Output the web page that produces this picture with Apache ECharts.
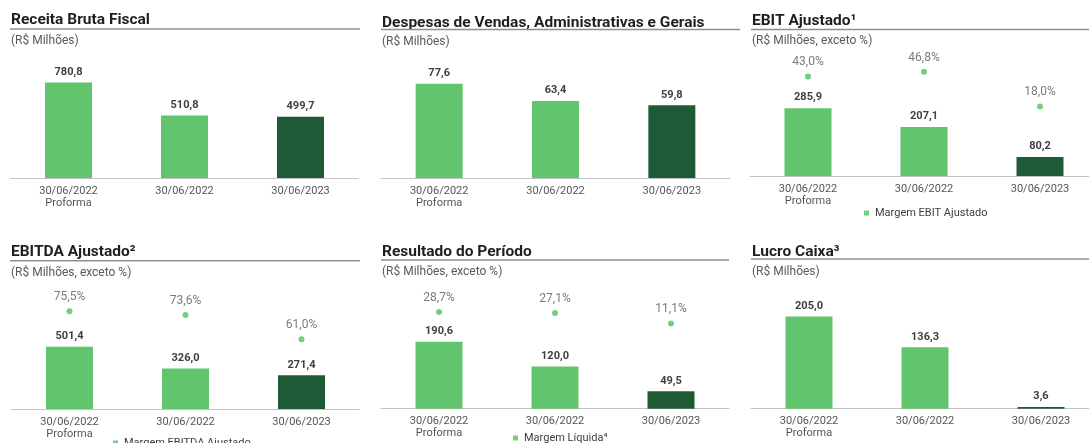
<!DOCTYPE html>
<html>
<head>
<meta charset="utf-8">
<script src="https://cdn.jsdelivr.net/npm/echarts@6/dist/echarts.min.js"></script>
<style>
  html, body { margin: 0; padding: 0; background: #ffffff; }
  #chart { width: 1089px; height: 443px; }
</style>
</head>
<body>
<div id="chart"></div>
<script>
// Period labels shared by every panel
const categories = ['30/06/2022\nProforma', '30/06/2022', '30/06/2023'];

// R$ millions
const receitaBruta = [780.8, 510.8, 499.7];
const despesasVGA = [77.6, 63.4, 59.8];
const ebitAjustado = [285.9, 207.1, 80.2];
const ebitdaAjustado = [501.4, 326.0, 271.4];
const resultadoPeriodo = [190.6, 120.0, 49.5];
const lucroCaixa = [205.0, 136.3, 3.6];

// Margins, %
const margemEbit = [43.0, 46.8, 18.0];
const margemEbitda = [75.5, 73.6, 61.0];
const margemLiquida = [28.7, 27.1, 11.1];

const FONT = 'Roboto, "Noto Sans", sans-serif';
const LIGHT = '#62c46c';
const DARK = '#1f5a37';
const DOT = '#4fc45c';

const fmt = v => v.toFixed(1).replace('.', ',');

// Panel layout: grid box, value-axis ranges, title block
const panels = [
  { title: 'Receita Bruta Fiscal', sub: '(R$ Milhões)', bars: receitaBruta,
    grid: { left: 10.5, top: 58, width: 348, height: 120 }, barMax: 980,
    titleY: 20, lineY: 29, lineX: [10, 360], subY: 41 },
  { title: 'Despesas de Vendas, Administrativas e Gerais', sub: '(R$ Milhões)', bars: despesasVGA,
    grid: { left: 381, top: 58, width: 349, height: 120 }, barMax: 98.8,
    titleY: 23.5, lineY: 29.5, lineX: [381, 740], subY: 42 },
  { title: 'EBIT Ajustado¹', sub: '(R$ Milhões, exceto %)', bars: ebitAjustado,
    margin: margemEbit, marginName: 'Margem EBIT Ajustado', pctRange: [-40, 60],
    legendPos: { left: 864, top: 207 },
    grid: { left: 750, top: 56, width: 348, height: 120 }, barMax: 506,
    titleY: 21, lineY: 29.5, lineX: [751, 1089], subY: 41 },
  { title: 'EBITDA Ajustado²', sub: '(R$ Milhões, exceto %)', bars: ebitdaAjustado,
    margin: margemEbitda, marginName: 'Margem EBITDA Ajustado', pctRange: [25, 87],
    legendPos: { left: 113, top: 437 },
    grid: { left: 11.5, top: 289, width: 348, height: 120 }, barMax: 968,
    titleY: 252.5, lineY: 260.7, lineX: [10, 360], subY: 273 },
  { title: 'Resultado do Período', sub: '(R$ Milhões, exceto %)', bars: resultadoPeriodo,
    margin: margemLiquida, marginName: 'Margem Líquida⁴', pctRange: [-120, 64.6],
    legendPos: { left: 513, top: 432 },
    grid: { left: 381, top: 288.7, width: 348, height: 120 }, barMax: 341,
    titleY: 252, lineY: 260, lineX: [381, 729], subY: 272 },
  { title: 'Lucro Caixa³', sub: '(R$ Milhões)', bars: lucroCaixa,
    grid: { left: 751, top: 288.7, width: 348, height: 120 }, barMax: 266.7,
    titleY: 252.5, lineY: 259, lineX: [751, 1089], subY: 272 }
];

const grid = [], xAxis = [], yAxis = [], series = [], legend = [], graphic = [];

panels.forEach((p, i) => {
  // right-hand panels run past the canvas edge, so no bounds fitting
  grid.push(Object.assign({ containLabel: false, outerBoundsMode: 'none' }, p.grid));
  xAxis.push({
    type: 'category', gridIndex: i, data: categories,
    axisLine: { show: true, lineStyle: { color: '#c4c4c4', width: 1 } },
    axisTick: { show: false },
    axisLabel: { color: '#555555', fontSize: 11, fontFamily: FONT, margin: 7, lineHeight: 12 }
  });
  const barAxis = yAxis.length;
  yAxis.push({ type: 'value', gridIndex: i, min: 0, max: p.barMax, show: false, splitLine: { show: false } });
  series.push({
    type: 'bar', xAxisIndex: i, yAxisIndex: barAxis, data: p.bars, barWidth: 47,
    itemStyle: { color: params => params.dataIndex === 2 ? DARK : LIGHT },
    label: {
      show: true, position: 'top', distance: 5,
      color: '#404040', fontSize: 11, fontWeight: 'bold', fontFamily: FONT,
      formatter: params => fmt(params.value)
    }
  });

  if (p.margin) {
    const pctAxis = yAxis.length;
    yAxis.push({ type: 'value', gridIndex: i, min: p.pctRange[0], max: p.pctRange[1], show: false, splitLine: { show: false } });
    series.push({
      type: 'scatter', name: p.marginName, xAxisIndex: i, yAxisIndex: pctAxis,
      data: p.margin, symbol: 'circle', symbolSize: 6,
      itemStyle: { color: DOT },
      label: {
        show: true, position: 'top', distance: 5,
        color: '#595959', fontSize: 12, fontFamily: FONT,
        formatter: params => fmt(params.value) + '%'
      }
    });
    legend.push({
      data: [p.marginName], left: p.legendPos.left, top: p.legendPos.top,
      icon: 'rect', itemWidth: 5, itemHeight: 5, padding: 0,
      selectedMode: false,
      textStyle: { color: '#404040', fontSize: 11, fontFamily: FONT, lineHeight: 12, padding: [0, 0, 0, 1] }
    });
  }

  // Title, rule under it and unit note
  graphic.push({
    type: 'text', x: p.lineX[0] + 1, y: p.titleY,
    style: { text: p.title, fill: '#1f1f1f', font: 'bold 15.5px ' + FONT, verticalAlign: 'middle' }
  });
  graphic.push({
    type: 'line', shape: { x1: p.lineX[0], y1: p.lineY, x2: p.lineX[1], y2: p.lineY },
    style: { stroke: '#8f8f8f', lineWidth: 1.5 }
  });
  graphic.push({
    type: 'text', x: p.lineX[0] + 1, y: p.subY,
    style: { text: p.sub, fill: '#595959', font: '12px ' + FONT, verticalAlign: 'middle' }
  });
});

const chart = echarts.init(document.getElementById('chart'), null, { renderer: 'canvas' });
chart.setOption({
  backgroundColor: '#ffffff',
  animation: false,
  grid, xAxis, yAxis, series, legend, graphic
});
</script>
</body>
</html>
